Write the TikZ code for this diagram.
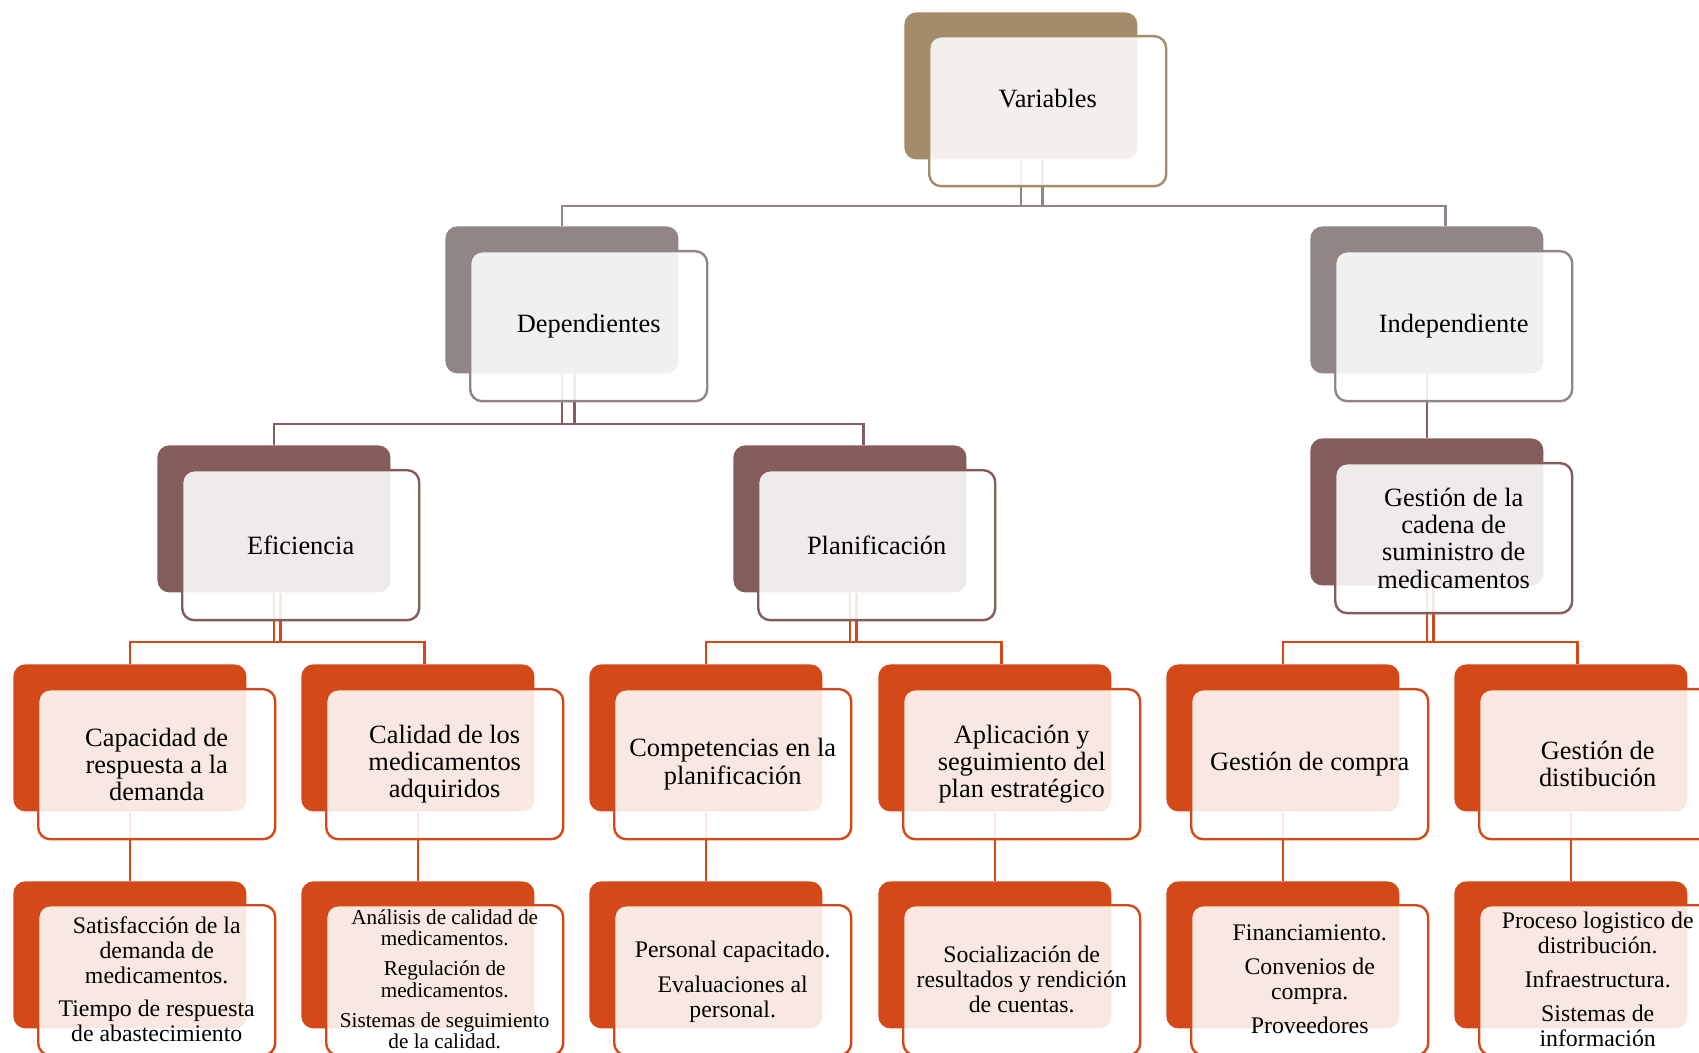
\documentclass[tikz,border=0pt]{standalone}
\usepackage{fontspec}
\setmainfont{Liberation Serif}
\usetikzlibrary{calc}
\definecolor{cBrown}{RGB}{164,139,106}
\definecolor{cMauve}{RGB}{145,133,134}
\definecolor{cRose}{RGB}{133,92,92}
\definecolor{cOrange}{RGB}{211,74,24}
\begin{document}
\begin{tikzpicture}[x=0.5pt,y=-0.5pt,
  backbox/.style={rectangle, rounded corners=6pt, fill=#1, minimum width=116.5pt, minimum height=73.5pt, anchor=north west, inner sep=0pt},
  frontbox/.style={rectangle, rounded corners=6pt, draw=#1, line width=1.2pt, fill=white, fill opacity=0.88, minimum width=118.5pt, minimum height=75pt, anchor=north west, inner sep=0pt},
  lbl/.style={align=center, inner sep=0pt, font=\fontsize{13.2}{13.6}\selectfont},
  lblsmall/.style={align=center, inner sep=0pt, font=\fontsize{11.9}{12.5}\selectfont},
  lbltiny/.style={align=center, inner sep=0pt, font=\fontsize{10.6}{10.6}\selectfont},
  conn/.style={draw=#1, line width=1.2pt},
]
\useasboundingbox (0,0) rectangle (1699,1053);
\clip (0,0) rectangle (1699,1053);

% ---------- back boxes ----------
\node[backbox=cBrown] (vB) at (904,12) {};
\node[backbox=cMauve] (dB) at (445,226) {};
\node[backbox=cMauve] (iB) at (1310,226) {};
\node[backbox=cRose] (eB) at (157,445) {};
\node[backbox=cRose] (pB) at (733,445) {};
\node[backbox=cRose] (gB) at (1310,438) {};
\node[backbox=cOrange] (a1B) at (13,664) {};
\node[backbox=cOrange] (a2B) at (301,664) {};
\node[backbox=cOrange] (a3B) at (589,664) {};
\node[backbox=cOrange] (a4B) at (878,664) {};
\node[backbox=cOrange] (a5B) at (1166,664) {};
\node[backbox=cOrange] (a6B) at (1454,664) {};
\node[backbox=cOrange] (b1B) at (13,881) {};
\node[backbox=cOrange] (b2B) at (301,881) {};
\node[backbox=cOrange] (b3B) at (589,881) {};
\node[backbox=cOrange] (b4B) at (878,881) {};
\node[backbox=cOrange] (b5B) at (1166,881) {};
\node[backbox=cOrange] (b6B) at (1454,881) {};

% ---------- connectors ----------
\coordinate (bus1) at (0,206);
\coordinate (bus2) at (0,424);
\coordinate (bus3) at (0,642);
% level 1 -> 2
\coordinate (v1) at (vB.south);
\coordinate (v2) at ([xshift=10.75pt]vB.south);
\coordinate (iN) at ([xshift=9.25pt]iB.north);
\draw[conn=cMauve] (v1) -- (v1 |- bus1) -| (dB.north);
\draw[conn=cMauve] (v2) -- (v2 |- bus1) -| (iN);
\draw[conn=cMauve] (v1 |- bus1) -- (v2 |- bus1);
% level 2 -> 3
\coordinate (d1) at (dB.south);
\coordinate (d2) at ([xshift=6.25pt]dB.south);
\coordinate (pN) at ([xshift=6.75pt]pB.north);
\draw[conn=cRose] (d1) -- (d1 |- bus2) -| (eB.north);
\draw[conn=cRose] (d2) -- (d2 |- bus2) -| (pN);
\draw[conn=cRose] (d1 |- bus2) -- (d2 |- bus2);
\draw[conn=cRose] (iB.south) -- (gB.north);
% level 3 -> 4
\coordinate (e1) at (eB.south);
\coordinate (e2) at ([xshift=3.25pt]eB.south);
\coordinate (a2N) at ([xshift=3.25pt]a2B.north);
\draw[conn=cOrange] (e1) -- (e1 |- bus3) -| (a1B.north);
\draw[conn=cOrange] (e2) -- (e2 |- bus3) -| (a2N);
\draw[conn=cOrange] (e1 |- bus3) -- (e2 |- bus3);
\coordinate (p1) at (pB.south);
\coordinate (p2) at ([xshift=3.25pt]pB.south);
\coordinate (a4N) at ([xshift=3.25pt]a4B.north);
\draw[conn=cOrange] (p1) -- (p1 |- bus3) -| (a3B.north);
\draw[conn=cOrange] (p2) -- (p2 |- bus3) -| (a4N);
\draw[conn=cOrange] (p1 |- bus3) -- (p2 |- bus3);
\coordinate (g1) at (gB.south);
\coordinate (g2) at ([xshift=3.25pt]gB.south);
\coordinate (a6N) at ([xshift=3.25pt]a6B.north);
\draw[conn=cOrange] (g1) -- (g1 |- bus3) -| (a5B.north);
\draw[conn=cOrange] (g2) -- (g2 |- bus3) -| (a6N);
\draw[conn=cOrange] (g1 |- bus3) -- (g2 |- bus3);
% level 4 -> 5
\draw[conn=cOrange] (a1B.south) -- (b1B.north);
\draw[conn=cOrange] (a2B.south) -- (b2B.north);
\draw[conn=cOrange] (a3B.south) -- (b3B.north);
\draw[conn=cOrange] (a4B.south) -- (b4B.north);
\draw[conn=cOrange] (a5B.south) -- (b5B.north);
\draw[conn=cOrange] (a6B.south) -- (b6B.north);

% ---------- front boxes ----------
\node[frontbox=cBrown] (vF) at (928,35) {};
\node[frontbox=cMauve] (dF) at (469,250) {};
\node[frontbox=cMauve] (iF) at (1334,250) {};
\node[frontbox=cRose] (eF) at (181,469) {};
\node[frontbox=cRose] (pF) at (757,469) {};
\node[frontbox=cRose] (gF) at (1334,462) {};
\node[frontbox=cOrange] (a1F) at (37,688) {};
\node[frontbox=cOrange] (a2F) at (325,688) {};
\node[frontbox=cOrange] (a3F) at (613,688) {};
\node[frontbox=cOrange] (a4F) at (902,688) {};
\node[frontbox=cOrange] (a5F) at (1190,688) {};
\node[frontbox=cOrange] (a6F) at (1478,688) {};
\node[frontbox=cOrange] (b1F) at (37,904) {};
\node[frontbox=cOrange] (b2F) at (325,904) {};
\node[frontbox=cOrange] (b3F) at (613,904) {};
\node[frontbox=cOrange] (b4F) at (902,904) {};
\node[frontbox=cOrange] (b5F) at (1190,904) {};
\node[frontbox=cOrange] (b6F) at (1478,904) {};

% ---------- texts ----------
\node[lbl] (vT) at ([yshift=6.5pt]vF.center) {Variables};
\node[lbl] (dT) at (dF.center) {Dependientes};
\node[lbl] (iT) at (iF.center) {Independiente};
\node[lbl] (eT) at (eF.center) {Eficiencia};
\node[lbl] (pT) at (pF.center) {Planificación};
\node[lbl] (gT) at (gF.center) {Gestión de la\\cadena de\\suministro de\\medicamentos};
\node[lbl] (a1T) at (a1F.center) {Capacidad de\\respuesta a la\\demanda};
\node[lbl] (a2T) at (a2F.center) {Calidad de los\\medicamentos\\adquiridos};
\node[lbl] (a3T) at (a3F.center) {Competencias en la\\planificación};
\node[lbl] (a4T) at (a4F.center) {Aplicación y\\seguimiento del\\plan estratégico};
\node[lbl] (a5T) at (a5F.center) {Gestión de compra};
\node[lbl] (a6T) at (a6F.center) {Gestión de\\distibución};
\node[lblsmall] (b1T) at ([yshift=0.5pt]b1F.center) {Satisfacción de la\\demanda de\\medicamentos.\\[4.3pt]Tiempo de respuesta\\de abastecimiento};
\node[lbltiny] (b2T) at ([yshift=0.5pt]b2F.center) {Análisis de calidad de\\medicamentos.\\[4.6pt]Regulación de\\medicamentos.\\[4.6pt]Sistemas de seguimiento\\de la calidad.};
\node[lblsmall] (b3T) at ([yshift=-0.8pt]b3F.center) {Personal capacitado.\\[5pt]Evaluaciones al\\personal.};
\node[lblsmall] (b4T) at ([yshift=0.5pt]b4F.center) {Socialización de\\resultados y rendición\\de cuentas.};
\node[lblsmall] (b5T) at ([yshift=0.5pt]b5F.center) {Financiamiento.\\[4.3pt]Convenios de\\compra.\\[4.3pt]Proveedores};
\node[lblsmall] (b6T) at ([yshift=0.5pt]b6F.center) {Proceso logistico de\\distribución.\\[4.5pt]Infraestructura.\\[4.5pt]Sistemas de\\información};
\end{tikzpicture}
\end{document}
